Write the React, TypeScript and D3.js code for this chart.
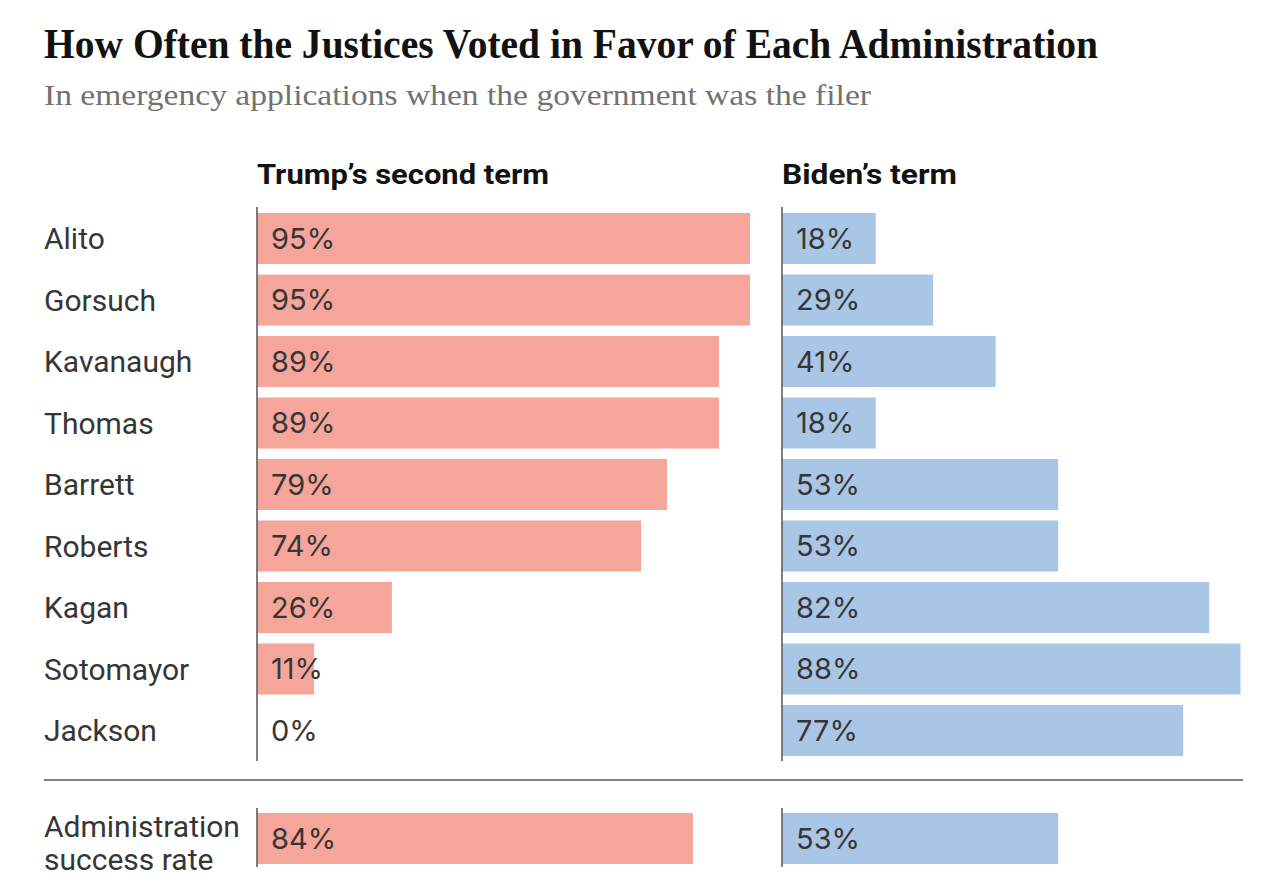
import * as d3 from 'd3'

const justices = ['Alito', 'Gorsuch', 'Kavanaugh', 'Thomas', 'Barrett', 'Roberts', 'Kagan', 'Sotomayor', 'Jackson']
const trumpValues = [95, 95, 89, 89, 79, 74, 26, 11, 0]
const bidenValues = [18, 29, 41, 18, 53, 53, 82, 88, 77]
const successLabel = ['Administration', 'success rate']
const successValues = [84, 53]
const panelTitles = ['Trump’s second term', 'Biden’s term']

const W = 1276
const H = 896
const PINK = '#f6a59b'
const BLUE = '#aac6e6'
const TEXT = '#363636'
const AXIS = '#555'

const sans = 'Roboto, "Noto Sans", sans-serif'
const numFont = 'Inter, Roboto, sans-serif'
const serif = '"Liberation Serif", "DejaVu Serif", serif'

export default function App() {
  const y = d3.scaleBand<string>()
    .domain(justices)
    .range([213, 756])
    .paddingInner(0.17)
    .paddingOuter(0)

  const xLeft = d3.scaleLinear().domain([0, 100]).range([257, 776])
  const xRight = d3.scaleLinear().domain([0, 100]).range([782, 1303])

  const panels = [
    { x: xLeft, values: trumpValues, color: PINK, title: panelTitles[0], titleLen: 292, success: successValues[0] },
    { x: xRight, values: bidenValues, color: BLUE, title: panelTitles[1], titleLen: 175, success: successValues[1] },
  ]

  const bw = y.bandwidth()
  const sumTop = 813

  return (
    <svg width={W} height={H} style={{ position: 'absolute', left: 0, top: 0, background: '#fff' }}>
      <text x={44} y={58} fontFamily={serif} fontWeight={700} fontSize={42} fill="#121212"
        textLength={1054} lengthAdjust="spacingAndGlyphs">
        How Often the Justices Voted in Favor of Each Administration
      </text>
      <text x={44} y={105} fontFamily={serif} fontSize={29} fill="#727272"
        textLength={827} lengthAdjust="spacingAndGlyphs">
        In emergency applications when the government was the filer
      </text>

      {justices.map(name => (
        <text key={name} x={44} y={(y(name) ?? 0) + bw / 2} dy="0.36em"
          fontFamily={sans} fontSize={30} fill={TEXT}>{name}</text>
      ))}

      {panels.map((p, pi) => (
        <g key={pi}>
          <text x={p.x(0)} y={184} fontFamily={sans} fontWeight={700} fontSize={28} fill="#121212"
            textLength={p.titleLen} lengthAdjust="spacingAndGlyphs">{p.title}</text>
          {p.values.map((v, i) => (
            <rect key={i} x={p.x(0)} y={y(justices[i])} width={p.x(v) - p.x(0)} height={bw} fill={p.color} />
          ))}
          <line x1={p.x(0)} x2={p.x(0)} y1={207} y2={761} stroke={AXIS} strokeWidth={1.5} />
          {p.values.map((v, i) => (
            <text key={i} x={p.x(0) + 14} y={(y(justices[i]) ?? 0) + bw / 2} dy="0.36em"
              fontFamily={numFont} fontSize={29} fill={TEXT}>{v}%</text>
          ))}

          <rect x={p.x(0)} y={sumTop} width={p.x(p.success) - p.x(0)} height={bw} fill={p.color} />
          <line x1={p.x(0)} x2={p.x(0)} y1={808} y2={867} stroke={AXIS} strokeWidth={1.5} />
          <text x={p.x(0) + 14} y={sumTop + bw / 2} dy="0.36em"
            fontFamily={numFont} fontSize={29} fill={TEXT}>{p.success}%</text>
        </g>
      ))}

      <line x1={44} x2={1243} y1={780} y2={780} stroke={AXIS} strokeWidth={1.5} />

      {successLabel.map((t, i) => (
        <text key={t} x={44} y={826 + i * 33} dy="0.36em" fontFamily={sans} fontSize={30} fill={TEXT}>{t}</text>
      ))}
    </svg>
  )
}
